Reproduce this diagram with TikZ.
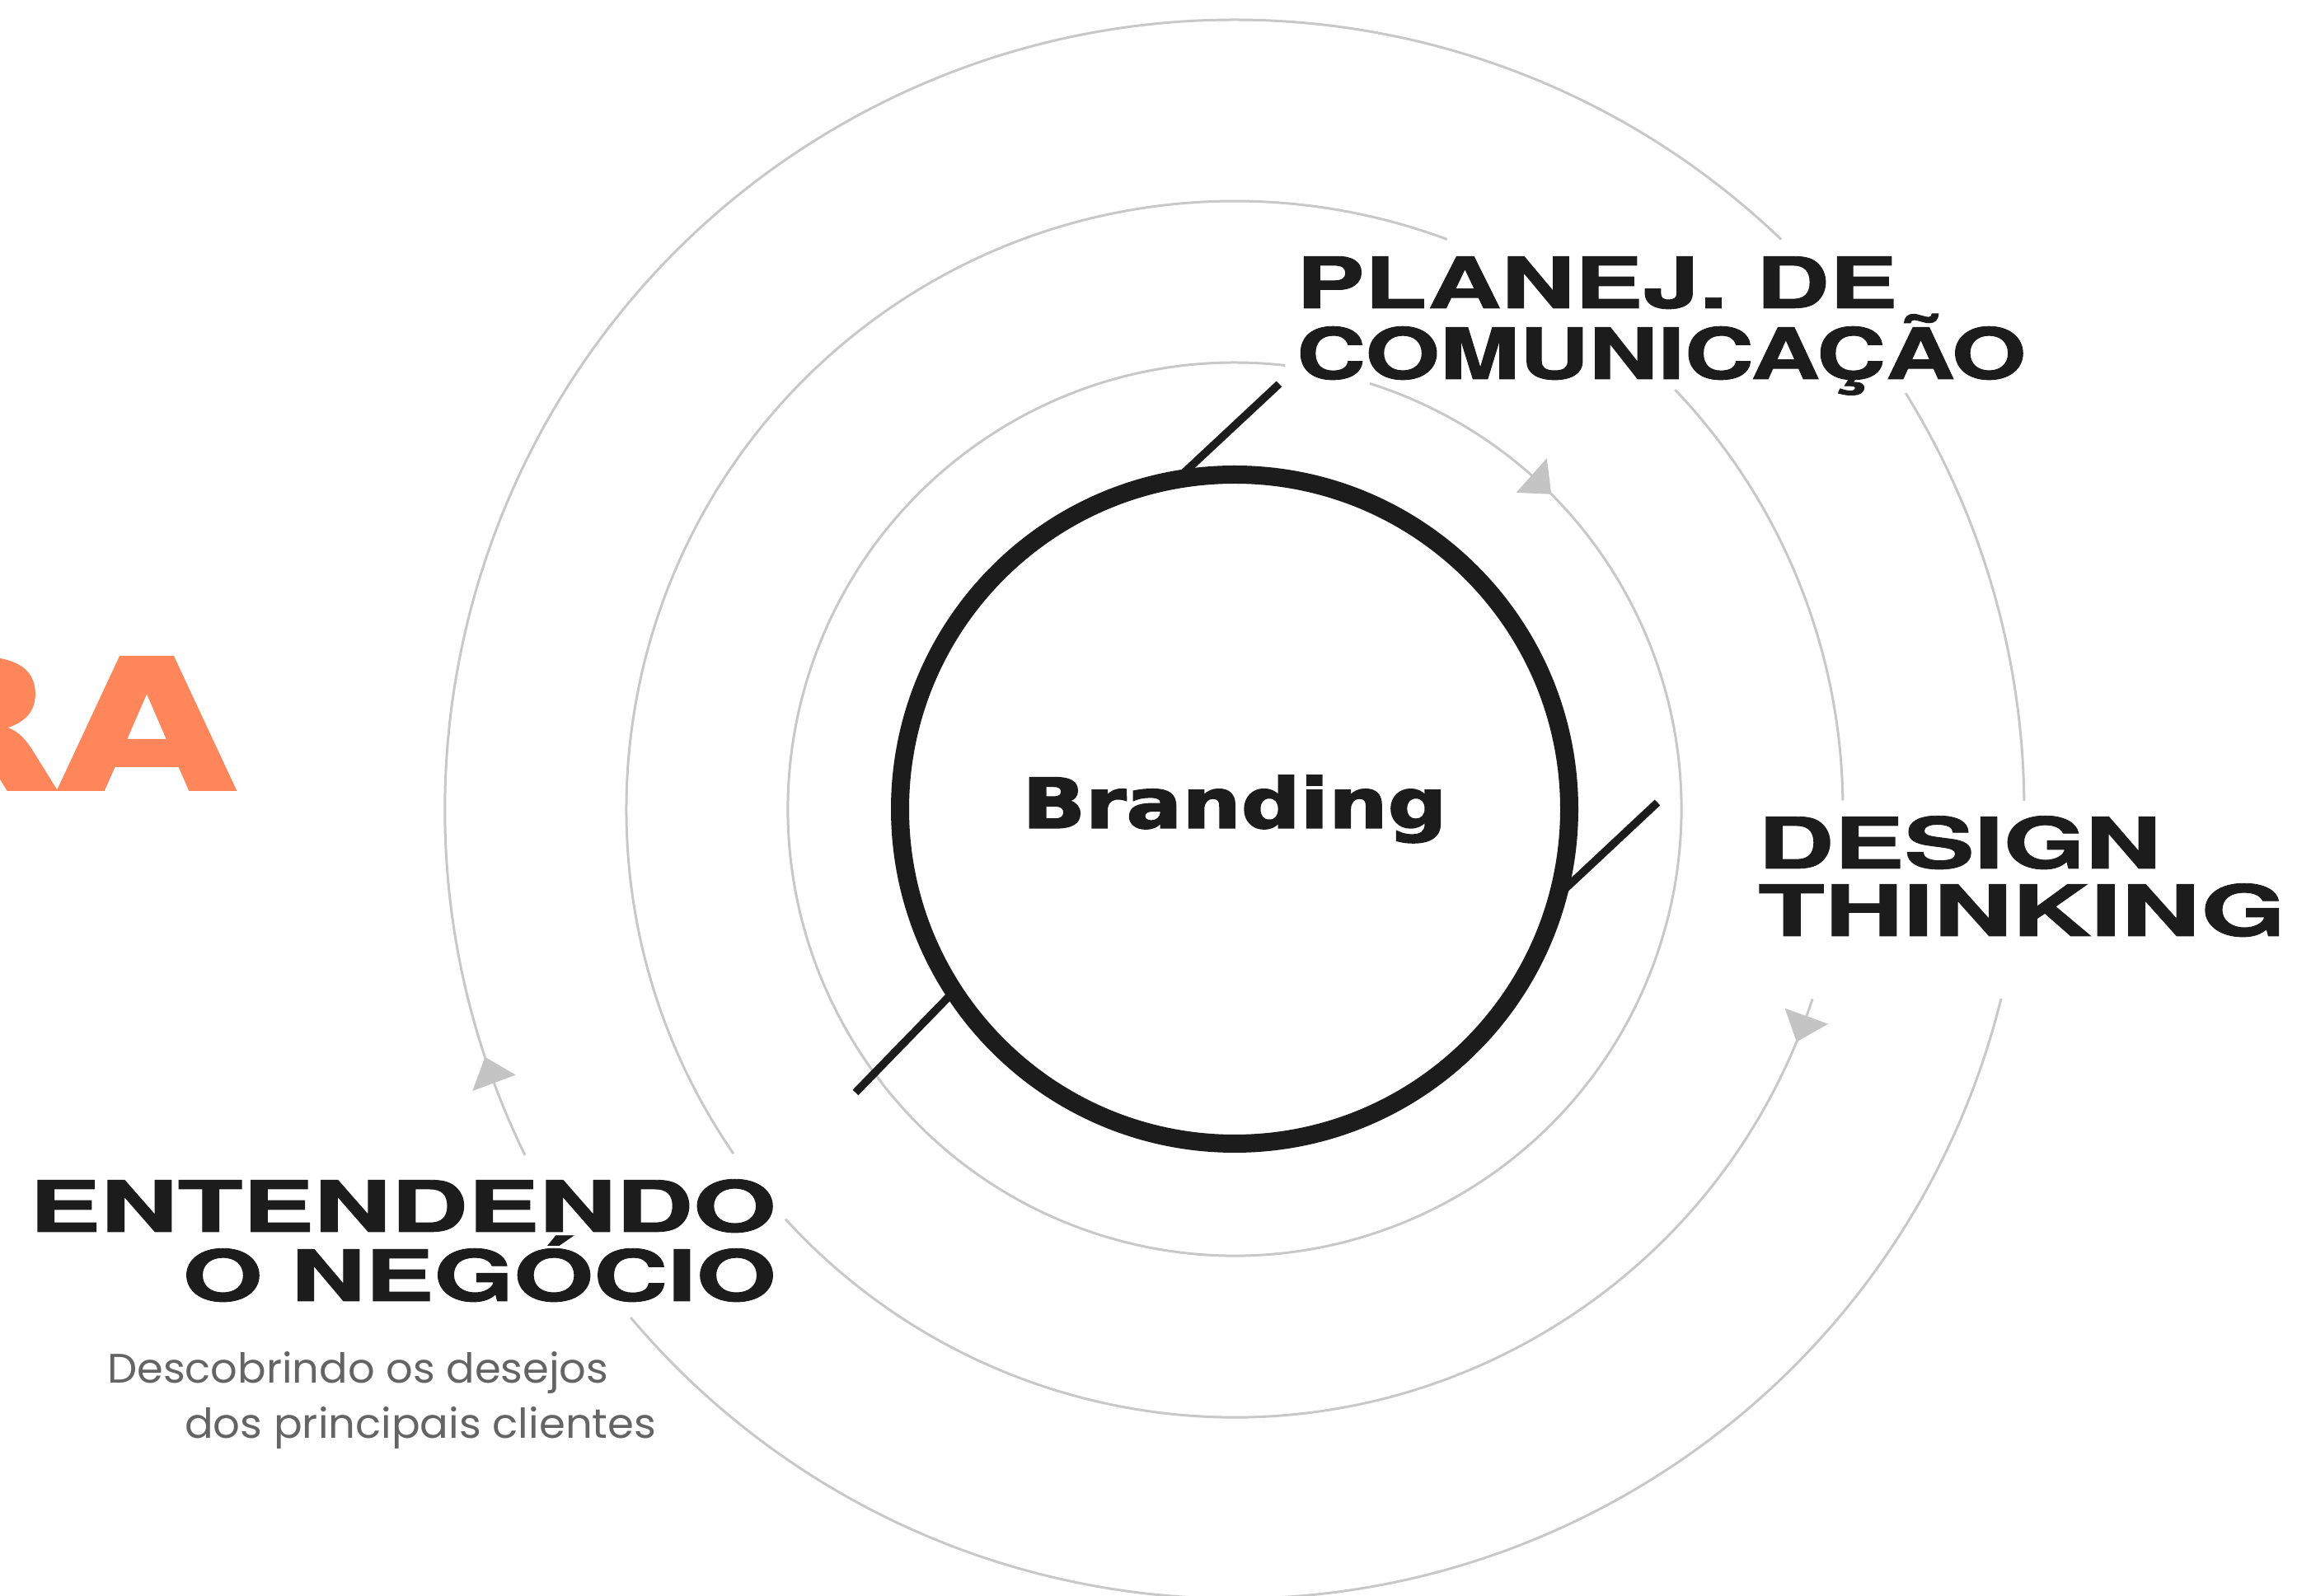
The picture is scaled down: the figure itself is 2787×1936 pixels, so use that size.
\documentclass[tikz,border=0pt]{standalone}
\usepackage{fontspec}
\usepackage{graphicx}
\usetikzlibrary{calc}
\newfontfamily\headfont{TeX Gyre Heros}[FakeBold=1]
\newfontfamily\brandfont{DejaVu Sans}[FakeBold=2]
\newfontfamily\subfont{Poppins}
\definecolor{ringgray}{RGB}{200,200,200}
\definecolor{arrowgray}{RGB}{196,196,196}
\definecolor{ink}{RGB}{28,28,28}
\definecolor{subgray}{RGB}{100,100,100}
\definecolor{accent}{RGB}{255,134,90}
\newcommand{\fitw}[2]{\resizebox{#1}{\height}{#2}}
\begin{document}
\begin{tikzpicture}[x=1pt,y=1pt,
  ring/.style={draw=ringgray, line width=3pt},
  ringtip/.style={fill=arrowgray},
  leader/.style={draw=ink, line width=9.5pt},
  head/.style={text=ink, inner sep=0pt},
]
\useasboundingbox (0,0) rectangle (2787,1936);
\coordinate (C) at (1498,954);

% rings (gaps where labels sit)
\draw[ring] (C) ++(72.4:542) arc[start angle=72.4, end angle=-276.5, radius=542];
\draw[ring] (C) ++(43.6:738) arc[start angle=43.6, end angle=0.8, radius=738];
\draw[ring] (C) ++(-18.2:738) arc[start angle=-18.2, end angle=-137.6, radius=738];
\draw[ring] (C) ++(-145.5:738) arc[start angle=-145.5, end angle=-290.45, radius=738];
\draw[ring] (C) ++(31.8:958) arc[start angle=31.8, end angle=0.6, radius=958];
\draw[ring] (C) ++(-13.9:958) arc[start angle=-13.9, end angle=-139.9, radius=958];
\draw[ring] (C) ++(-154:958) arc[start angle=-154, end angle=-313.8, radius=958];

% arrow heads
\fill[ringtip] ($(C)+(44.85:542)$) -- ($(C)+(48.35:570)$) -- ($(C)+(48.35:514)$) -- cycle;
\fill[ringtip] ($(C)+(-22.5:738)$) -- ($(C)+(-19.9:766)$) -- ($(C)+(-19.9:710)$) -- cycle;
\fill[ringtip] ($(C)+(-161.7:958)$) -- ($(C)+(-159.7:986)$) -- ($(C)+(-159.7:930)$) -- cycle;

% central circle
\node[circle, draw=ink, line width=22pt, minimum size=812pt, inner sep=0pt, outer sep=0pt,
      text=ink, font=\brandfont\bfseries\fontsize{84}{84}\selectfont] (brand) at (C) {\fitw{515pt}{Branding}};

% labels
\node[head, anchor=north west, align=left, font=\headfont\bfseries\fontsize{86}{86}\selectfont]
  (planej) at (1573,1625) {\fitw{729pt}{PLANEJ. DE}\\\fitw{885pt}{COMUNICAÇÃO}};
\node[head, anchor=north west, align=left, font=\headfont\bfseries\fontsize{86}{82}\selectfont]
  (design) at (2133,946) {\fitw{489pt}{DESIGN}\\\fitw{640pt}{THINKING}};
\node[head, anchor=north east, align=right, font=\headfont\bfseries\fontsize{86}{84}\selectfont]
  (entend) at (942,505) {\fitw{906pt}{ENTENDENDO}\\\fitw{720pt}{O NEGÓCIO}};
\node[anchor=north west, align=left, inner sep=0pt, text=subgray, font=\subfont\fontsize{50}{67}\selectfont]
  (sub) at (130,296) {\fitw{608pt}{Descobrindo os desejos}\\\hspace*{94pt}\fitw{572pt}{dos principais clientes}};
\node[anchor=south east, inner sep=0pt, text=accent, font=\brandfont\bfseries\fontsize{219}{219}\selectfont]
  (ra) at (285,978) {\fitw{426pt}{RA}};

% leader lines
\coordinate (l1) at (1552,1470);
\coordinate (l2) at (2011,962);
\coordinate (l3) at (1038,610);
\draw[leader] (brand.100.7) -- (l1);
\draw[leader] (brand.-15.9) -- (l2);
\draw[leader] (brand.213.7) -- (l3);
\end{tikzpicture}
\end{document}
